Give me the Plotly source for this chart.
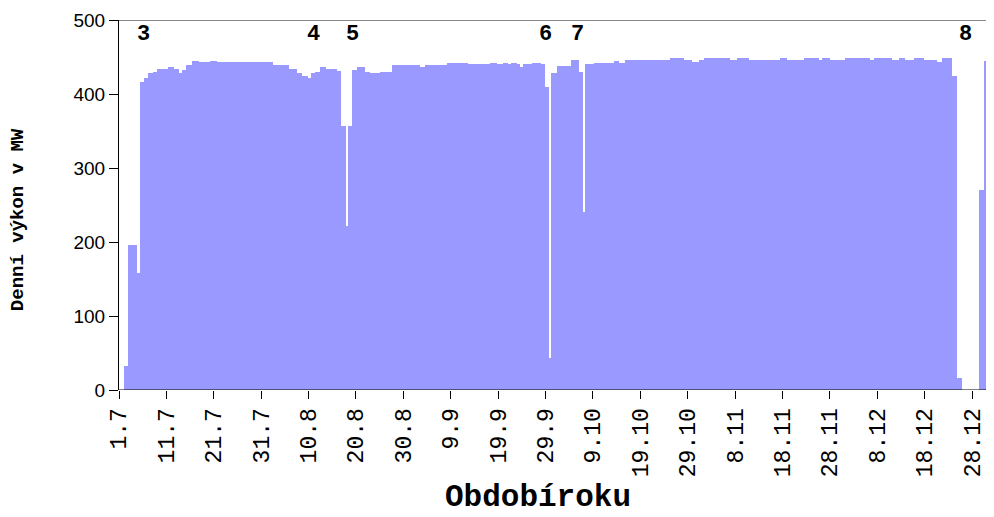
import pandas as pd
import plotly.graph_objects as go

# Step data: start of each segment in days after 1 July, and output in MW
seg_start_day = [
    0.00, 1.00, 2.00, 3.86, 4.43, 5.34, 6.19, 7.11, 8.09, 10.41,
    11.61, 12.67, 13.24, 14.14, 15.47, 16.89, 19.21, 20.62, 32.57, 35.89,
    37.51, 38.70, 39.96, 40.47, 41.38, 42.43, 43.70, 45.96, 46.86, 47.86,
    48.28, 49.12, 50.18, 51.93, 52.99, 55.10, 57.57, 63.54, 64.60, 69.18,
    73.74, 78.32, 79.73, 81.06, 82.18, 82.75, 83.96, 84.65, 85.35, 87.12,
    89.09, 89.93, 90.77, 91.24, 92.40, 95.42, 96.96, 97.85, 98.27, 100.13,
    104.35, 105.41, 106.82, 116.32, 119.13, 120.90, 122.29, 123.35, 128.98, 130.40,
    132.85, 139.54, 140.95, 144.46, 147.62, 148.34, 150.09, 153.26, 158.54, 159.38,
    163.12, 164.51, 165.93, 167.68, 169.79, 172.62, 173.68, 175.79, 176.84, 177.90,
    181.55, 182.61,
]
seg_mw = [
    0, 33, 196, 158, 416, 421, 428, 430, 434, 436,
    434, 428, 432, 439, 445, 443, 445, 443, 439, 434,
    428, 425, 422, 428, 430, 436, 434, 431, 357, 221,
    357, 433, 436, 430, 428, 430, 439, 437, 439, 442,
    440, 442, 440, 442, 441, 442, 440, 437, 440, 442,
    440, 410, 43, 428, 438, 446, 430, 241, 440, 442,
    444, 442, 446, 448, 446, 443, 446, 448, 446, 448,
    446, 448, 446, 448, 446, 448, 446, 448, 446, 448,
    446, 448, 446, 448, 446, 443, 448, 425, 16, 0,
    270, 445,
]
data_end_day = 184.0

tick_labels = ["1.7", "11.7", "21.7", "31.7", "10.8", "20.8", "30.8", "9.9", "19.9",
               "29.9", "9.10", "19.10", "29.10", "8.11", "18.11", "28.11", "8.12",
               "18.12", "28.12"]
y_ticks = [0, 100, 200, 300, 400, 500]

event_labels = ["3", "4", "5", "6", "7", "8"]
event_day = [5.2, 41.0, 49.2, 89.9, 96.8, 178.6]
event_y = 481

frame_end_day = 183.2
axis_end_day = 183.45

year_start = pd.Timestamp(2002, 7, 1)
tick_vals = []
for lbl in tick_labels:
    d, m = lbl.split(".")
    tick_vals.append((pd.Timestamp(2002, int(m), int(d)) - year_start).days)

bounds = seg_start_day + [data_end_day]
widths = [bounds[i + 1] - bounds[i] for i in range(len(seg_start_day))]

fig = go.Figure()
fig.add_bar(x=seg_start_day, y=seg_mw, width=widths, offset=0,
            marker=dict(color="#9999FF", line=dict(width=0)),
            hoverinfo="skip", showlegend=False)

mono = "Liberation Mono"
fig.update_layout(
    width=994, height=517,
    margin=dict(l=111, r=11, t=12, b=135, autoexpand=False),
    paper_bgcolor="white", plot_bgcolor="white",
    bargap=0, bargroupgap=0,
    xaxis=dict(range=[0, data_end_day], tickmode="array", tickvals=tick_vals,
               ticktext=tick_labels, tickangle=-90, ticks="outside", ticklen=8,
               tickcolor="black", tickwidth=1, showline=False, showgrid=False,
               zeroline=False, automargin=False,
               tickfont=dict(family=mono, size=23, color="black")),
    yaxis=dict(range=[0, 500], tickmode="array", tickvals=y_ticks, ticks="outside",
               ticklen=9, tickcolor="black", tickwidth=1, showline=True,
               linecolor="black", linewidth=1, showgrid=False, zeroline=False,
               automargin=False,
               tickfont=dict(family="Liberation Sans", size=19, color="black")),
)

fig.add_shape(type="line", xref="x", yref="y", x0=0, x1=frame_end_day, y0=500, y1=500,
              line=dict(color="#888888", width=2), layer="below")
fig.add_shape(type="line", xref="x", yref="y", x0=frame_end_day, x1=frame_end_day, y0=0, y1=500,
              line=dict(color="#888888", width=2), layer="below")
fig.add_shape(type="line", xref="x", yref="y", x0=0, x1=axis_end_day, y0=0, y1=0,
              line=dict(color="black", width=1), layer="above")

for lbl, d in zip(event_labels, event_day):
    fig.add_annotation(x=d, y=event_y, xref="x", yref="y", text="<b>%s</b>" % lbl,
                       showarrow=False, xanchor="center", yanchor="middle",
                       font=dict(family=mono, size=22, color="black"))

fig.add_annotation(xref="paper", yref="paper", x=0, y=0.459, xshift=-101,
                   text="<b>Denní výkon v MW</b>", textangle=-90, showarrow=False,
                   xanchor="center", yanchor="middle",
                   font=dict(family=mono, size=19, color="black"))
fig.add_annotation(xref="paper", yref="paper", x=0.4805, y=0, yshift=-107,
                   text="<b>Obdobíroku</b>", showarrow=False,
                   xanchor="center", yanchor="middle",
                   font=dict(family=mono, size=31, color="black"))

fig.write_html("out.html")
